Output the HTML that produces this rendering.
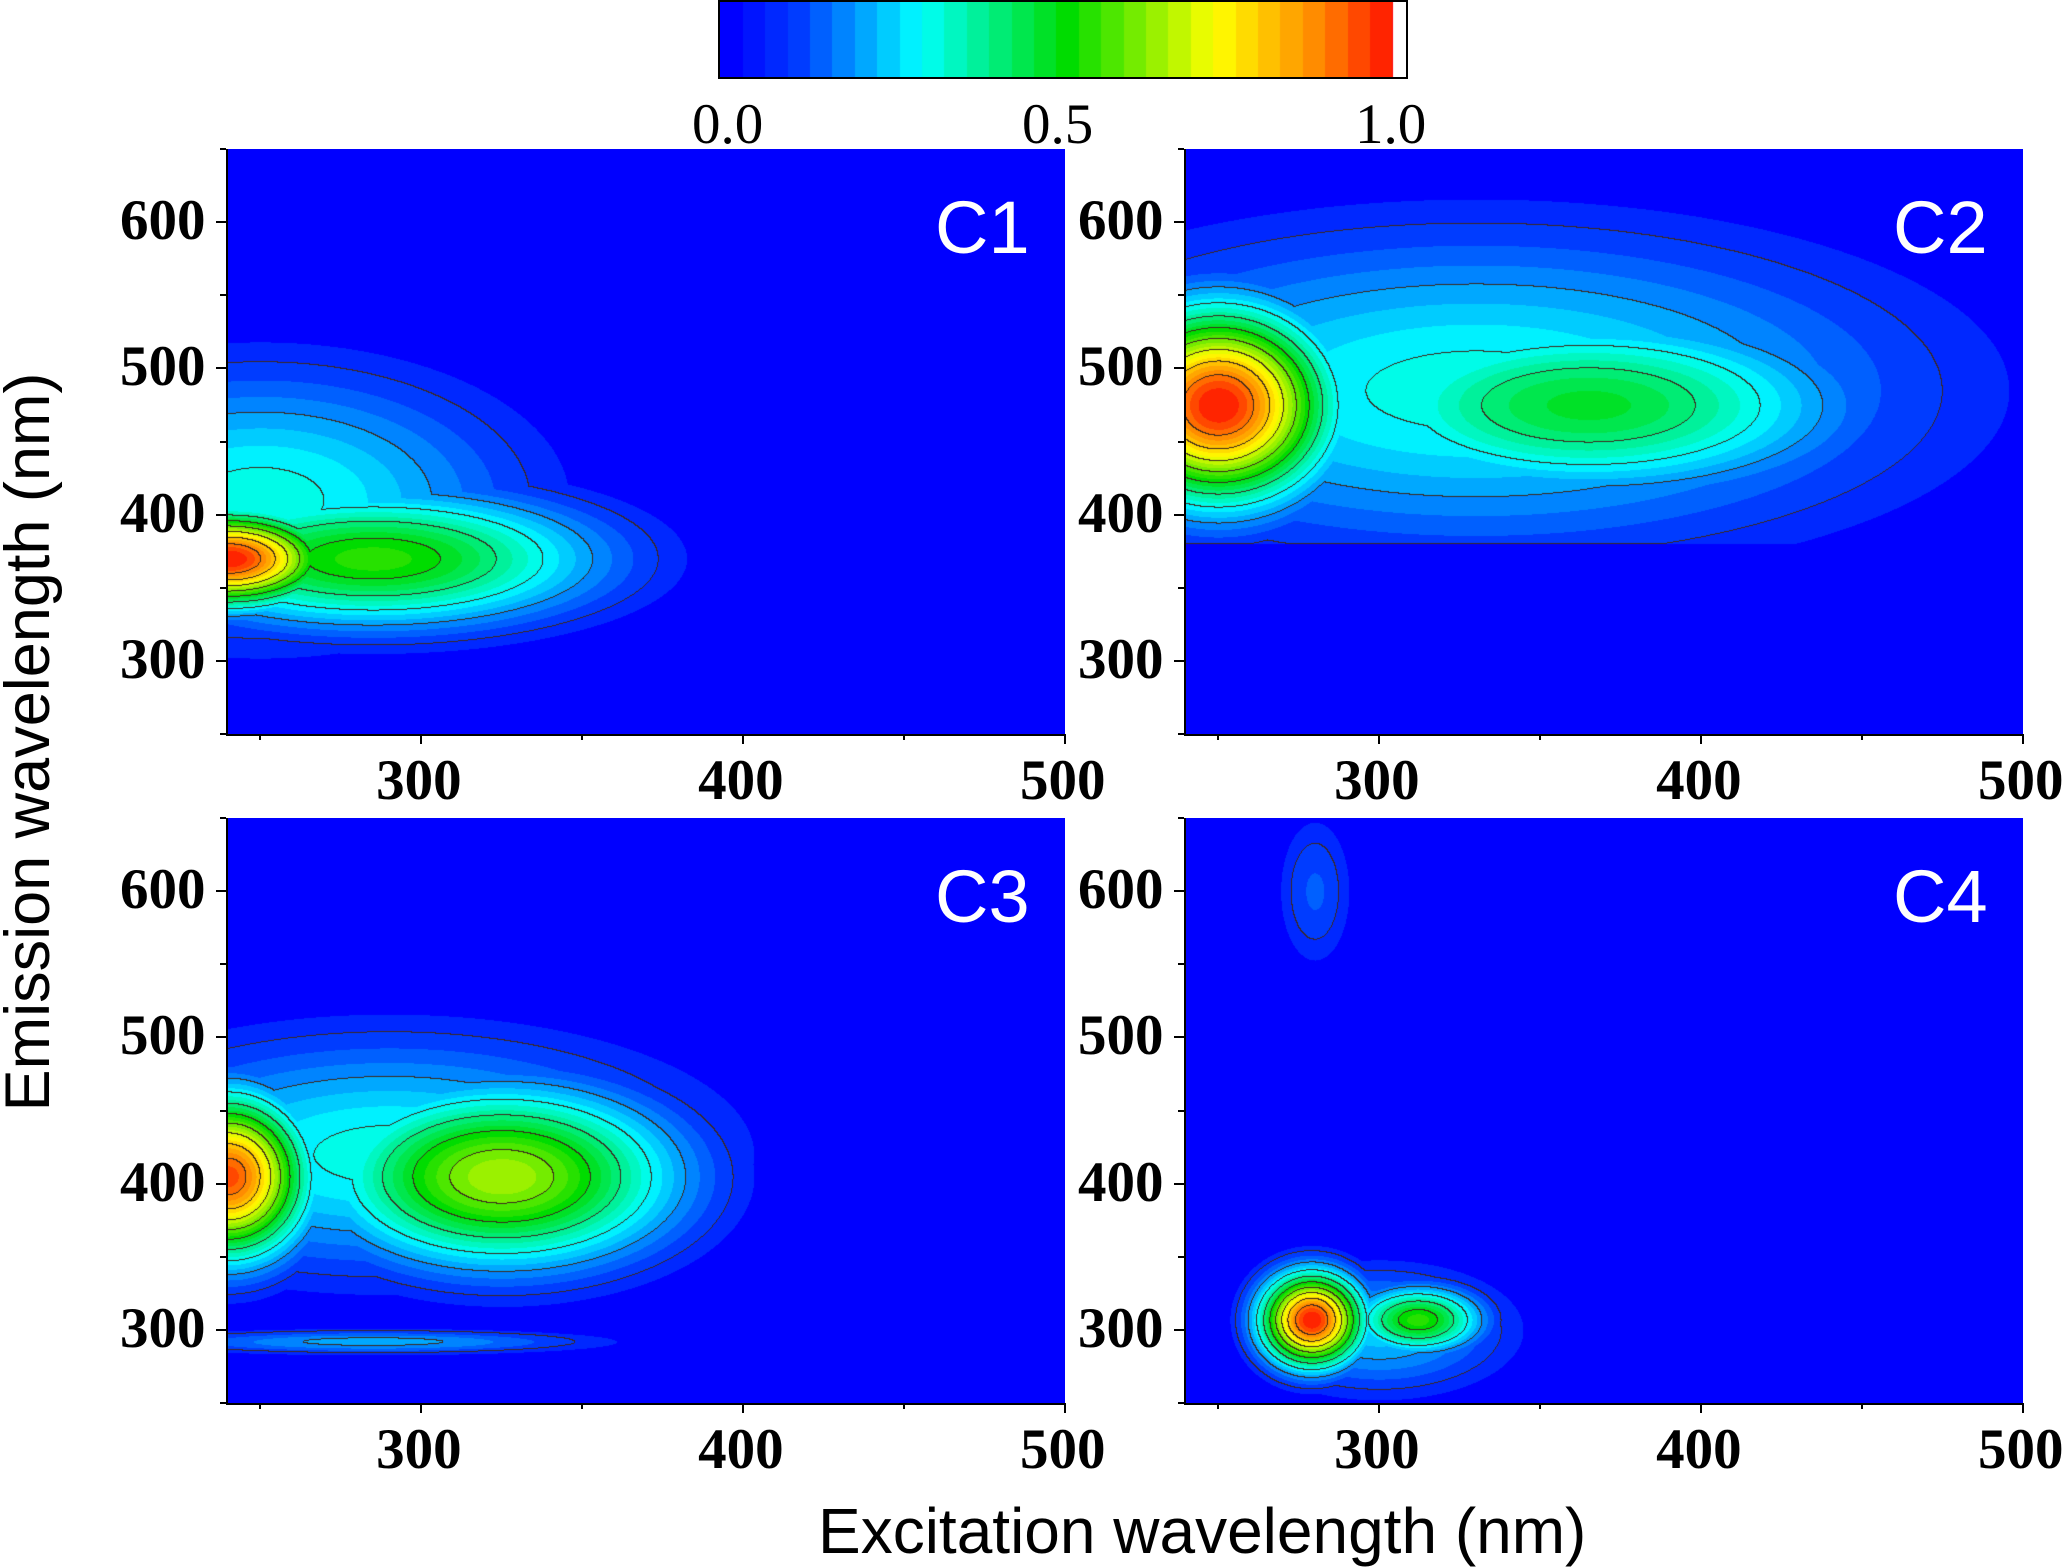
<!DOCTYPE html>
<html><head><meta charset="utf-8">
<style>
html,body{margin:0;padding:0;background:#fff;}
body{width:2067px;height:1567px;position:relative;overflow:hidden;font-family:"Liberation Serif",serif;}
.panel{position:absolute;width:837px;height:585px;}
canvas{display:block;}
.tick{position:absolute;font-weight:bold;font-size:57px;color:#000;font-family:"Liberation Serif",serif;}
.clab{position:absolute;color:#fff;font-family:"Liberation Sans",sans-serif;font-size:74px;}
</style></head>
<body>
<canvas id="cbar" width="686" height="75" style="position:absolute;left:718px;top:0;border:2px solid #000;box-sizing:content-box;"></canvas>
<div class="tick" style="left:692px;top:92px;font-weight:normal;">0.0</div>
<div class="tick" style="left:1022px;top:92px;font-weight:normal;">0.5</div>
<div class="tick" style="left:1355px;top:92px;font-weight:normal;">1.0</div>
<div id="root"></div>
<div style="position:absolute;left:818px;top:1494px;white-space:nowrap;font-family:'Liberation Sans',sans-serif;font-size:64px;">Excitation wavelength (nm)</div>
<div style="position:absolute;left:28px;top:742px;transform:translate(-50%,-50%) rotate(-90deg);white-space:nowrap;font-family:'Liberation Sans',sans-serif;font-size:63px;">Emission wavelength (nm)</div>
<script>
// data
const components=["C1","C2","C3","C4"];
const xTicks=[300,400,500];
const yTicks=[300,400,500,600];
const exRange=[240,500];
const emRange=[250,650];
// peaks: [ex, em, amplitude, sigmaEx, sigmaEm]
const peaksC1=[[240,370,1.0,22,22],[285,370,0.55,48,32],[250,410,0.32,55,62]];
const peaksC2=[[250,475,1.0,24,45],[365,475,0.48,55,42],[330,485,0.32,95,75]];
const peaksC3=[[240,405,0.95,17,38],[325,405,0.66,37,42],[290,420,0.32,65,55],[285,292,0.22,50,6]];
const peaksC4=[[279,307,1.0,11,22],[312,307,0.55,14,16],[300,300,0.25,28,30],[280,600,0.14,9,40]];
const peakSets=[peaksC1,peaksC2,peaksC3,peaksC4];
const lowCut=[0,380,280,250];

const stops=[[0,[0,0,255]],[0.1,[0,60,255]],[0.28,[0,255,255]],[0.5,[0,220,0]],[0.72,[255,255,0]],[0.88,[255,130,0]],[1,[255,0,0]]];
function cmap(v){v=Math.max(0,Math.min(1,v));for(let i=1;i<stops.length;i++){if(v<=stops[i][0]){const a=stops[i-1],b=stops[i];const t=(v-a[0])/(b[0]-a[0]);return a[1].map((c,k)=>Math.round(c+(b[1][k]-c)*t));}}return [255,0,0];}
(function(){const c=document.getElementById('cbar'),g=c.getContext('2d');const W=672;for(let x=0;x<c.width;x++){if(x>W){g.fillStyle='#fff';}else{const q=Math.floor(x/W*30)/30;const col=cmap(q);g.fillStyle=`rgb(${col})`;}g.fillRect(x,0,1,75);}})();

const pos=[[228,149],[1186,149],[228,818],[1186,818]];
const PW=837,PH=585;
function xS(v){return (v-exRange[0])/(exRange[1]-exRange[0])*PW;}
function yS(v){return PH-(v-emRange[0])/(emRange[1]-emRange[0])*PH;}
const root=document.getElementById('root');
components.forEach((name,pi)=>{
  const [L,T]=pos[pi];
  const d=document.createElement('div');d.className='panel';d.style.left=L+'px';d.style.top=T+'px';
  
  
  const c=document.createElement('canvas');c.width=PW;c.height=PH;
  
  
  d.appendChild(c);root.appendChild(d);
  const g=c.getContext('2d');const img=g.createImageData(PW,PH);
  const vals=new Float32Array(PW*PH);
  const pk=peakSets[pi];
  for(let y=0;y<PH;y++){const em=emRange[1]-y/PH*(emRange[1]-emRange[0]);
    for(let x=0;x<PW;x++){const ex=exRange[0]+x/PW*(exRange[1]-exRange[0]);
      let v=0;for(const p of pk){const dx=(ex-p[0])/p[3],dy=(em-p[1])/p[4];v=Math.max(v,p[2]*Math.exp(-0.5*(dx*dx+dy*dy)));}
      if(em<lowCut[pi])v=0;
      vals[y*PW+x]=v;}}
  for(let y=0;y<PH;y++)for(let x=0;x<PW;x++){const v=vals[y*PW+x];let col;
    const q=v<0.07?0:Math.floor(v*30)/30;
    const l=Math.floor(v*10),lr=x<PW-1?Math.floor(vals[y*PW+x+1]*10):l,ld=y<PH-1?Math.floor(vals[(y+1)*PW+x]*10):l;
    if(v>0.05&&(l!==lr||l!==ld))col=[60,40,30];else col=cmap(q);
    const i=(y*PW+x)*4;img.data[i]=col[0];img.data[i+1]=col[1];img.data[i+2]=col[2];img.data[i+3]=255;}
  g.putImageData(img,0,0);
  const ax=document.createElement('div');ax.style.cssText=`position:absolute;left:${L-2}px;top:${T}px;width:2px;height:${PH+2}px;background:#000`;
  
  
  root.appendChild(ax);
  const bx=document.createElement('div');bx.style.cssText=`position:absolute;left:${L-2}px;top:${T+PH}px;width:${PW+2}px;height:2px;background:#000`;
  
  
  root.appendChild(bx);
  for(let v=250;v<=650;v+=50){const t=document.createElement('div');const len=v%100===0?10:6;
    t.style.cssText=`position:absolute;left:${L-2-len}px;top:${T+yS(v)-1}px;width:${len}px;height:2px;background:#000`;
    
    
    root.appendChild(t);}
  for(let v=250;v<=500;v+=50){const t=document.createElement('div');const len=v%100===0?10:6;
    t.style.cssText=`position:absolute;left:${L+xS(v)-1}px;top:${T+PH}px;width:2px;height:${len}px;background:#000`;
    
    
    root.appendChild(t);}
  yTicks.forEach(v=>{const t=document.createElement('div');t.className='tick';t.textContent=v;
    t.style.left=(L-108)+'px';t.style.top=(T+yS(v)-34)+'px';
    
    
    root.appendChild(t);});
  xTicks.forEach(v=>{const t=document.createElement('div');t.className='tick';t.textContent=v;
    t.style.left=(L+xS(v)-45)+'px';t.style.top=(T+PH+14)+'px';
    
    
    root.appendChild(t);});
  const lb=document.createElement('div');lb.className='clab';lb.textContent=name;
  lb.style.left=(L+PW-130)+'px';lb.style.top=(T+36)+'px';
  
  
  root.appendChild(lb);
});
</script>
</body></html>
